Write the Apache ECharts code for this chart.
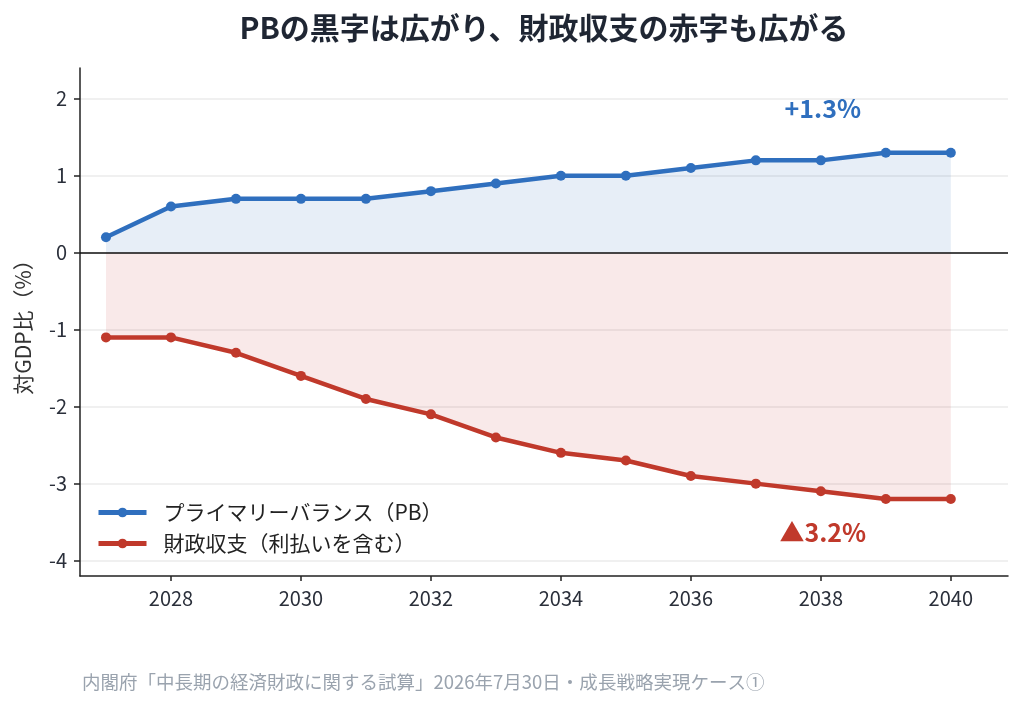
<!DOCTYPE html>
<html>
<head>
<meta charset="utf-8">
<script src="https://cdn.jsdelivr.net/npm/echarts@6/dist/echarts.min.js"></script>
<style>
  html, body { margin: 0; padding: 0; background: #fff; }
  #chart { width: 1024px; height: 708px; }
</style>
</head>
<body>
<div id="chart"></div>
<script>
// 年度
const years = [2027, 2028, 2029, 2030, 2031, 2032, 2033, 2034, 2035, 2036, 2037, 2038, 2039, 2040];
// プライマリーバランス（対GDP比 %）
const pbValues = [0.2, 0.6, 0.7, 0.7, 0.7, 0.8, 0.9, 1.0, 1.0, 1.1, 1.2, 1.2, 1.3, 1.3];
// 財政収支（利払いを含む）
const balanceValues = [-1.1, -1.1, -1.3, -1.6, -1.9, -2.1, -2.4, -2.6, -2.7, -2.9, -3.0, -3.1, -3.2, -3.2];
const xTicks = [2028, 2030, 2032, 2034, 2036, 2038, 2040];
const yTicks = [-4, -3, -2, -1, 0, 1, 2];

const blue = '#2f6fbe';
const red = '#c0392b';
const font = '"Noto Sans CJK JP", "Noto Sans", sans-serif';

const chart = echarts.init(document.getElementById('chart'));

const toPairs = (vals) => years.map((y, i) => [y, vals[i]]);

chart.setOption({
    backgroundColor: '#fff',
    textStyle: { fontFamily: font },
    animation: false,
    grid: { left: 80, right: 16, top: 68, bottom: 132 },
    legend: {
        orient: 'vertical',
        left: 91,
        top: 497,
        itemWidth: 48,
        itemHeight: 12,
        itemGap: 10,
        lineStyle: { width: 5 },
        textStyle: { fontSize: 21, color: '#222', padding: [0, 0, 0, 12], fontFamily: font },
        data: ['プライマリーバランス（PB）', '財政収支（利払いを含む）']
    },
    xAxis: {
        type: 'value',
        min: 2026.6,
        max: 2040.88,
        axisLine: { onZero: false, lineStyle: { color: '#222', width: 1.5 } },
        axisTick: { show: true, length: 5, lineStyle: { color: '#222', width: 1.5 }, customValues: xTicks },
        splitLine: { show: false },
        axisLabel: { fontSize: 20, color: '#2a2f3a', margin: 12, customValues: xTicks, formatter: (v) => String(v) }
    },
    yAxis: {
        type: 'value',
        min: -4.2,
        max: 2.4,
        name: '対GDP比（%）',
        nameLocation: 'middle',
        nameGap: 46,
        nameTextStyle: { fontSize: 21, color: '#333', fontFamily: font },
        axisLine: { show: true, lineStyle: { color: '#222', width: 1.5 } },
        axisTick: { show: true, length: 6, lineStyle: { color: '#222', width: 1.5 }, customValues: yTicks },
        axisLabel: { fontSize: 20, color: '#2a2f3a', margin: 13, customValues: yTicks },
        splitLine: { show: true, lineStyle: { color: '#ebebeb', width: 1.5 } }
    },
    series: [
        {
            name: 'プライマリーバランス（PB）',
            type: 'line',
            data: toPairs(pbValues),
            color: blue,
            symbol: 'circle',
            symbolSize: 10,
            lineStyle: { width: 4.5, color: blue },
            itemStyle: { color: blue },
            areaStyle: { color: 'rgba(47,111,190,0.17)', origin: 0 },
            z: 3,
            markLine: {
                silent: true,
                symbol: 'none',
                label: { show: false },
                lineStyle: { color: '#111', width: 1.6, type: 'solid', opacity: 1 },
                data: [{ yAxis: 0 }]
            },
            markPoint: {
                symbol: 'circle',
                symbolSize: 1,
                itemStyle: { color: 'rgba(0,0,0,0)' },
                label: {
                    show: true, position: 'inside', formatter: '+1.3%',
                    fontSize: 25, fontWeight: 'bold', color: blue, fontFamily: font
                },
                data: [{ coord: [2038.03, 1.87] }]
            }
        },
        {
            name: '財政収支（利払いを含む）',
            type: 'line',
            data: toPairs(balanceValues),
            color: red,
            symbol: 'circle',
            symbolSize: 10,
            lineStyle: { width: 4.5, color: red },
            itemStyle: { color: red },
            areaStyle: { color: 'rgba(200,60,60,0.16)', origin: 0 },
            z: 3,
            markPoint: {
                symbol: 'circle',
                symbolSize: 1,
                itemStyle: { color: 'rgba(0,0,0,0)' },
                label: {
                    show: true, position: 'inside', formatter: '▲3.2%',
                    fontSize: 25, fontWeight: 'bold', color: red, fontFamily: font
                },
                data: [{ coord: [2038.03, -3.64] }]
            }
        }
    ],
    graphic: [
        {
            type: 'text',
            x: 544,
            y: 28,
            style: {
                text: 'PBの黒字は広がり、財政収支の赤字も広がる',
                fontSize: 30, fontWeight: 'bold', fill: '#1f2633', fontFamily: font,
                align: 'center', verticalAlign: 'middle'
            }
        },
        {
            type: 'text',
            x: 82,
            y: 682,
            style: {
                text: '内閣府「中長期の経済財政に関する試算」2026年7月30日・成長戦略実現ケース①',
                fontSize: 18.5, fill: '#9aa3ae', fontFamily: font,
                align: 'left', verticalAlign: 'middle'
            }
        }
    ]
});
</script>
</body>
</html>
